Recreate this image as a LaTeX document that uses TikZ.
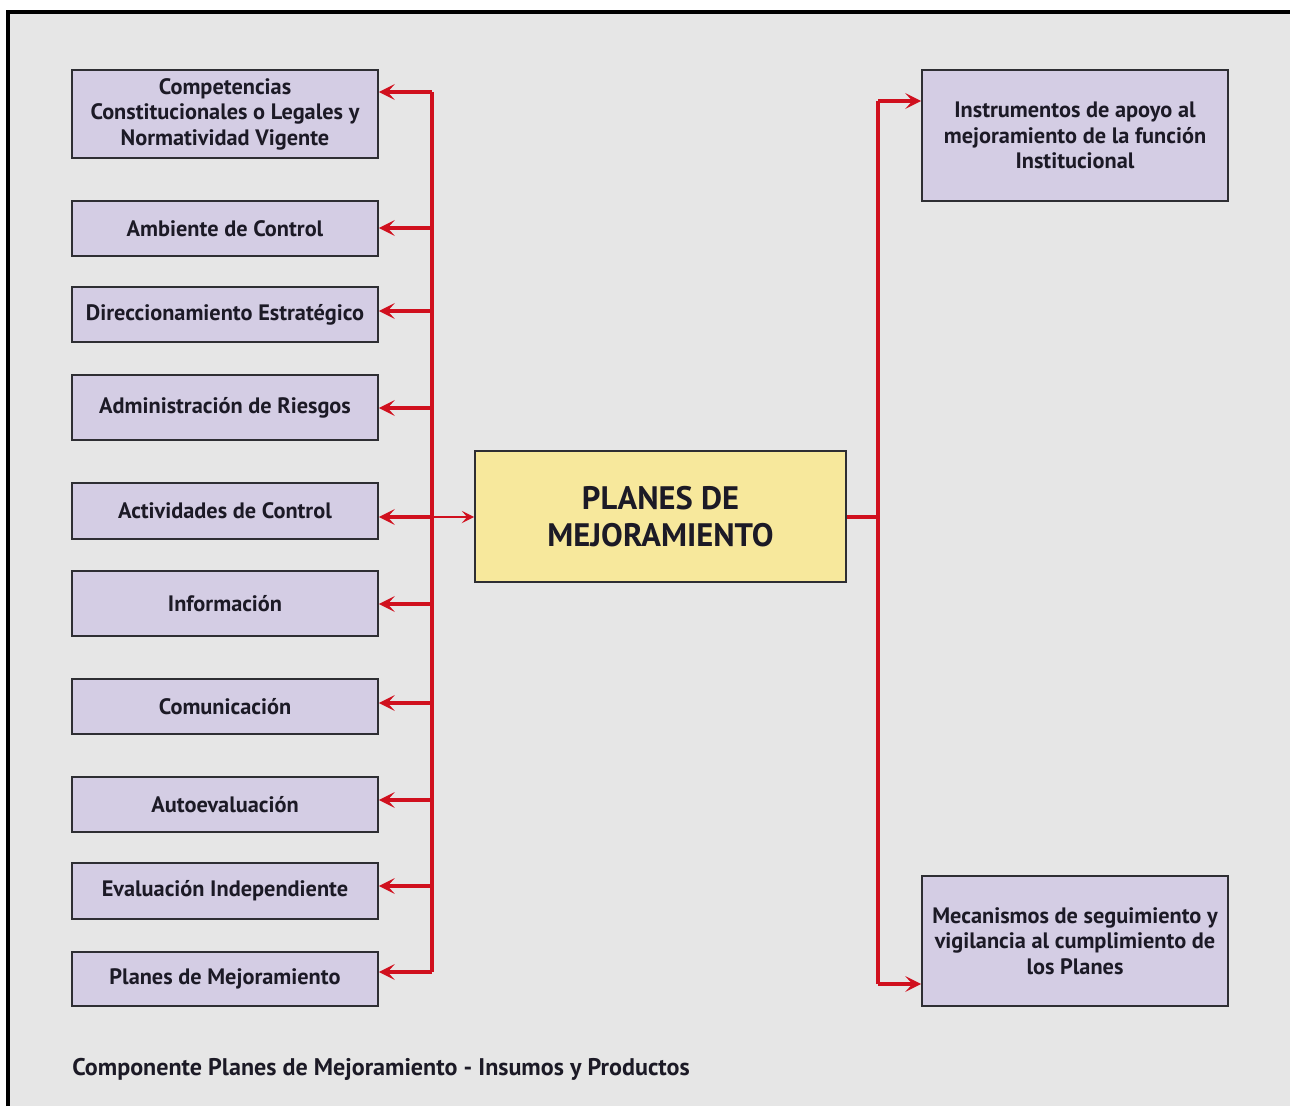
\documentclass[tikz,border=0pt]{standalone}
\usepackage{fontspec}
\setmainfont{PT Sans}
\usetikzlibrary{arrows.meta}
\definecolor{fondo}{HTML}{E6E6E6}
\definecolor{lila}{HTML}{D4CDE4}
\definecolor{amarillo}{HTML}{F7E89C}
\definecolor{rojo}{HTML}{D0101E}
\definecolor{borde}{HTML}{2E2E33}
\definecolor{tinta}{HTML}{1C1A26}
\begin{document}
\begin{tikzpicture}[x=0.02cm,y=-0.02cm,
    caja/.style={rectangle,draw=borde,line width=1.1pt,fill=lila,minimum width=6.12cm,
      align=center,font=\bfseries\fontsize{12.7}{14.5}\selectfont,text=tinta,inner sep=2pt},
    centro/.style={caja,fill=amarillo,minimum width=7.42cm,minimum height=2.62cm,
      font=\bfseries\fontsize{18.5}{21}\selectfont},
    flecha/.style={rojo,line width=2pt,-{Stealth[length=9pt,width=9pt,inset=4pt]}},
    linea/.style={rojo,line width=2pt}]
    \useasboundingbox (0,0) rectangle (1290,1106);
    \fill[fondo] (8,12) rectangle (1290,1106);
    \draw[line width=1.8pt] (8,1106) -- (8,12) -- (1290,12);
    % insumos
    \node[caja,minimum height=1.76cm] (e1) at (225,114) {Competencias\\Constitucionales o Legales y\\Normatividad Vigente};
    \node[caja,minimum height=1.1cm] (e2) at (225,228.5) {Ambiente de Control};
    \node[caja,minimum height=1.1cm] (e3) at (225,314.5) {Direccionamiento Estratégico};
    \node[caja,minimum height=1.3cm] (e4) at (225,407.5) {Administración de Riesgos};
    \node[caja,minimum height=1.12cm] (e5) at (225,511) {Actividades de Control};
    \node[caja,minimum height=1.3cm] (e6) at (225,603.5) {Información};
    \node[caja,minimum height=1.1cm] (e7) at (225,706.5) {Comunicación};
    \node[caja,minimum height=1.1cm] (e8) at (225,804.5) {Autoevaluación};
    \node[caja,minimum height=1.12cm] (e9) at (225,891) {Evaluación Independiente};
    \node[caja,minimum height=1.08cm] (e10) at (225,979) {Planes de Mejoramiento};
    % componente
    \node[centro] (pm) at (660.5,516.5) {PLANES DE\\MEJORAMIENTO};
    % productos
    \node[caja,minimum height=2.62cm] (p1) at (1075,135.5) {Instrumentos de apoyo al\\mejoramiento de la función\\Institucional};
    \node[caja,minimum height=2.6cm] (p2) at (1075,941) {Mecanismos de seguimiento y\\vigilancia al cumplimiento de\\los Planes};
    \coordinate (s1) at (432,92);
    \coordinate (s10) at (432,972);
    \coordinate (sc) at (432,517);
    \coordinate (d0) at (878,517);
    \coordinate (d1) at (878,101);
    \coordinate (d2) at (878,984);
    \draw[linea] (s1) -- (s10);
    \draw[flecha] (s1) -- (e1.east |- s1);
    \foreach \i/\y in {2/228,3/311,4/408,5/517,6/604,7/703,8/800,9/886}
      \draw[flecha] (432,\y) -- (e\i.east |- 0,\y);
    \draw[flecha] (s10) -- (e10.east |- s10);
    \draw[rojo,line width=1.1pt,-{Stealth[length=7pt,width=7pt,inset=3pt]}] (sc) -- (pm.west |- sc);
    \draw[linea] (pm.east |- d0) -- (d0);
    \draw[linea] (d1) -- (d2);
    \draw[flecha] (d1) -- (p1.west |- d1);
    \draw[flecha] (d2) -- (p2.west |- d2);
    \node[anchor=west,font=\bfseries\fontsize{13.7}{16}\selectfont,text=tinta,inner sep=0pt] (pie) at (72,1069)
      {Componente Planes de Mejoramiento - Insumos y Productos};
\end{tikzpicture}
\end{document}
